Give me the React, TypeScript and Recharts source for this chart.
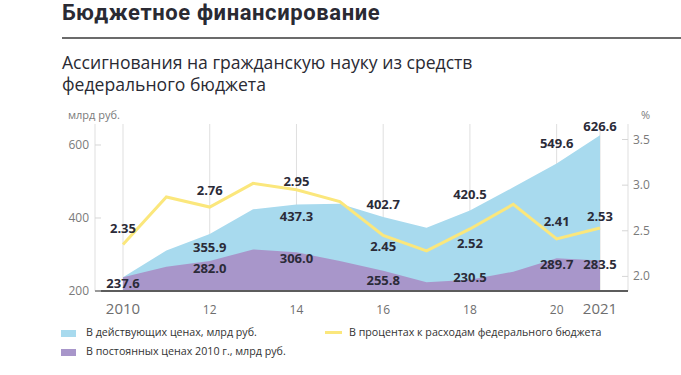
import React from "react";
import {
  Area,
  CartesianGrid,
  ComposedChart,
  LabelList,
  Line,
  XAxis,
  YAxis,
} from "recharts";

const years = [2010, 2011, 2012, 2013, 2014, 2015, 2016, 2017, 2018, 2019, 2020, 2021];
const currentPrices = [237.6, 311.0, 355.9, 424.0, 437.3, 439.0, 402.7, 373.0, 420.5, 484.0, 549.6, 626.6];
const constantPrices = [237.6, 266.5, 282.0, 314.0, 306.0, 282.0, 255.8, 224.0, 230.5, 253.0, 289.7, 283.5];
const budgetShare = [2.35, 2.87, 2.76, 3.02, 2.95, 2.82, 2.45, 2.28, 2.52, 2.79, 2.41, 2.53];
const xTicks = [2010, 2012, 2014, 2016, 2018, 2020, 2021];
const leftTicks = [200, 400, 600];
const rightTicks = [2.0, 2.5, 3.0, 3.5];

const data = years.map((year, i) => ({
  year,
  current: currentPrices[i],
  constant: constantPrices[i],
  share: budgetShare[i],
}));

// vertical offset of each value label from its point (only labelled years)
const currentDy: Record<number, number> = { 2010: 6, 2012: 13, 2014: 12, 2016: -13, 2018: -17, 2020: -20, 2021: -9 };
const constantDy: Record<number, number> = { 2012: 7, 2014: 6, 2016: 9, 2018: -3, 2020: 6, 2021: 3 };
const shareDy: Record<number, number> = { 2010: -16, 2012: -17, 2014: -9, 2016: 11, 2018: 14, 2020: -18, 2021: -12 };

const BLUE = "#A8DAEE";
const PURPLE = "#A896CA";
const YELLOW = "#FBE77C";
const FONT = "'Open Sans', sans-serif";

const makeLabel = (offsets: Record<number, number>, digits: number) => (props: any) => {
  const { x, y, value, index } = props;
  const dy = offsets[years[index]];
  if (dy === undefined) return null;
  return (
    <text
      x={x}
      y={y + dy}
      textAnchor='middle'
      dominantBaseline='central'
      fontFamily={FONT}
      fontWeight={700}
      fontSize={13}
      fill='#2b2b38'>
      {Number(value).toFixed(digits)}
    </text>
  );
};

const LeftTick = (props: any) => {
  const { x, y, payload } = props;
  return (
    <g>
      <line x1={x + 6} x2={x + 12} y1={y} y2={y} stroke='#d6d6d6' />
      <text x={x} y={y} dy={4} textAnchor='end' fontFamily={FONT} fontSize={12} fill='#7a7a7a'>
        {payload.value}
      </text>
    </g>
  );
};

const RightTick = (props: any) => {
  const { x, y, payload } = props;
  return (
    <g>
      <line x1={x - 11} x2={x - 5} y1={y} y2={y} stroke='#d6d6d6' />
      <text x={x} y={y} dy={4} textAnchor='start' fontFamily={FONT} fontSize={12} fill='#7a7a7a'>
        {Number(payload.value).toFixed(1)}
      </text>
    </g>
  );
};

const BottomTick = (props: any) => {
  const { x, y, payload } = props;
  const full = payload.value === 2010 || payload.value === 2021;
  return (
    <text
      x={x}
      y={y + 23}
      textAnchor='middle'
      fontFamily={FONT}
      fontSize={full ? 15 : 12}
      fill='#6e6e6e'>
      {full ? payload.value : String(payload.value).slice(2)}
    </text>
  );
};

export default function App() {
  return (
    <div
      style={{
        position: "absolute",
        left: 0,
        top: 0,
        width: 681,
        height: 375,
        background: "#fff",
        fontFamily: FONT,
        overflow: "hidden",
      }}>
      <div
        style={{
          position: "absolute",
          left: 62,
          top: 3,
          fontFamily: "Roboto, sans-serif",
          fontSize: 22,
          lineHeight: "20px",
          letterSpacing: 0.6,
          fontWeight: 700,
          color: "#2a2a33",
          whiteSpace: "nowrap",
        }}>
        Бюджетное финансирование
      </div>
      <div
        style={{
          position: "absolute",
          left: 62,
          top: 37,
          width: 619,
          height: 2,
          background: "#6b6b6b",
        }}
      />
      <div
        style={{
          position: "absolute",
          left: 62,
          top: 52,
          fontSize: 17.6,
          lineHeight: "21.7px",
          color: "#2a2a33",
          whiteSpace: "nowrap",
        }}>
        Ассигнования на гражданскую науку из средств
        <br />
        федерального бюджета
      </div>
      <div style={{ position: "absolute", left: 68, top: 107, fontSize: 11, color: "#7a7a7a" }}>
        млрд руб.
      </div>
      <div style={{ position: "absolute", left: 641, top: 107, fontSize: 11, color: "#7a7a7a" }}>
        %
      </div>

      <div style={{ position: "absolute", left: 0, top: 0 }}>
        <ComposedChart
          width={681}
          height={320}
          data={data}
          margin={{ top: 124, right: 13, left: 55, bottom: 0 }}>
          <XAxis
            dataKey='year'
            type='number'
            domain={[2010, 2021]}
            ticks={xTicks}
            padding={{ left: 28, right: 28 }}
            height={29}
            tickSize={0}
            tickMargin={0}
            tickLine={false}
            axisLine={{ stroke: "#5c5c5c", strokeWidth: 2 }}
            tick={<BottomTick />}
          />
          <YAxis
            yAxisId='left'
            orientation='left'
            width={40}
            domain={[200, 657.5]}
            ticks={leftTicks}
            allowDataOverflow
            axisLine={false}
            tickLine={false}
            tickSize={0}
            tickMargin={6}
            tick={<LeftTick />}
          />
          <YAxis
            yAxisId='right'
            orientation='right'
            width={40}
            domain={[1.84, 3.67]}
            ticks={rightTicks}
            allowDataOverflow
            axisLine={false}
            tickLine={false}
            tickSize={0}
            tickMargin={5}
            tick={<RightTick />}
          />
          <Area
            yAxisId='left'
            type='linear'
            dataKey='current'
            stroke='none'
            fill={BLUE}
            fillOpacity={1}
            isAnimationActive={false}
          />
          <Area
            yAxisId='left'
            type='linear'
            dataKey='constant'
            stroke='none'
            fill={PURPLE}
            fillOpacity={1}
            isAnimationActive={false}
          />
          <CartesianGrid horizontal={false} stroke='rgba(0,0,0,0.13)' yAxisId='left' />
          <Line
            yAxisId='right'
            type='linear'
            dataKey='share'
            stroke={YELLOW}
            strokeWidth={3}
            dot={false}
            isAnimationActive={false}>
            <LabelList dataKey='share' content={makeLabel(shareDy, 2)} />
          </Line>
          <Area
            yAxisId='left'
            type='linear'
            dataKey='current'
            stroke='none'
            fill='none'
            isAnimationActive={false}>
            <LabelList dataKey='current' content={makeLabel(currentDy, 1)} />
          </Area>
          <Area
            yAxisId='left'
            type='linear'
            dataKey='constant'
            stroke='none'
            fill='none'
            isAnimationActive={false}>
            <LabelList dataKey='constant' content={makeLabel(constantDy, 1)} />
          </Area>
        </ComposedChart>
      </div>

      <div style={{ position: "absolute", left: 61, top: 330, width: 15, height: 7, background: BLUE }} />
      <div style={{ position: "absolute", left: 86, top: 325, fontSize: 10.7, color: "#333", whiteSpace: "nowrap" }}>
        В действующих ценах, млрд руб.
      </div>
      <div style={{ position: "absolute", left: 61, top: 349, width: 15, height: 7, background: PURPLE }} />
      <div style={{ position: "absolute", left: 86, top: 344, fontSize: 10.7, color: "#333", whiteSpace: "nowrap" }}>
        В постоянных ценах 2010 г., млрд руб.
      </div>
      <div style={{ position: "absolute", left: 325, top: 331, width: 17, height: 3, background: YELLOW }} />
      <div style={{ position: "absolute", left: 349, top: 325, fontSize: 10.7, color: "#333", whiteSpace: "nowrap" }}>
        В процентах к расходам федерального бюджета
      </div>
    </div>
  );
}
